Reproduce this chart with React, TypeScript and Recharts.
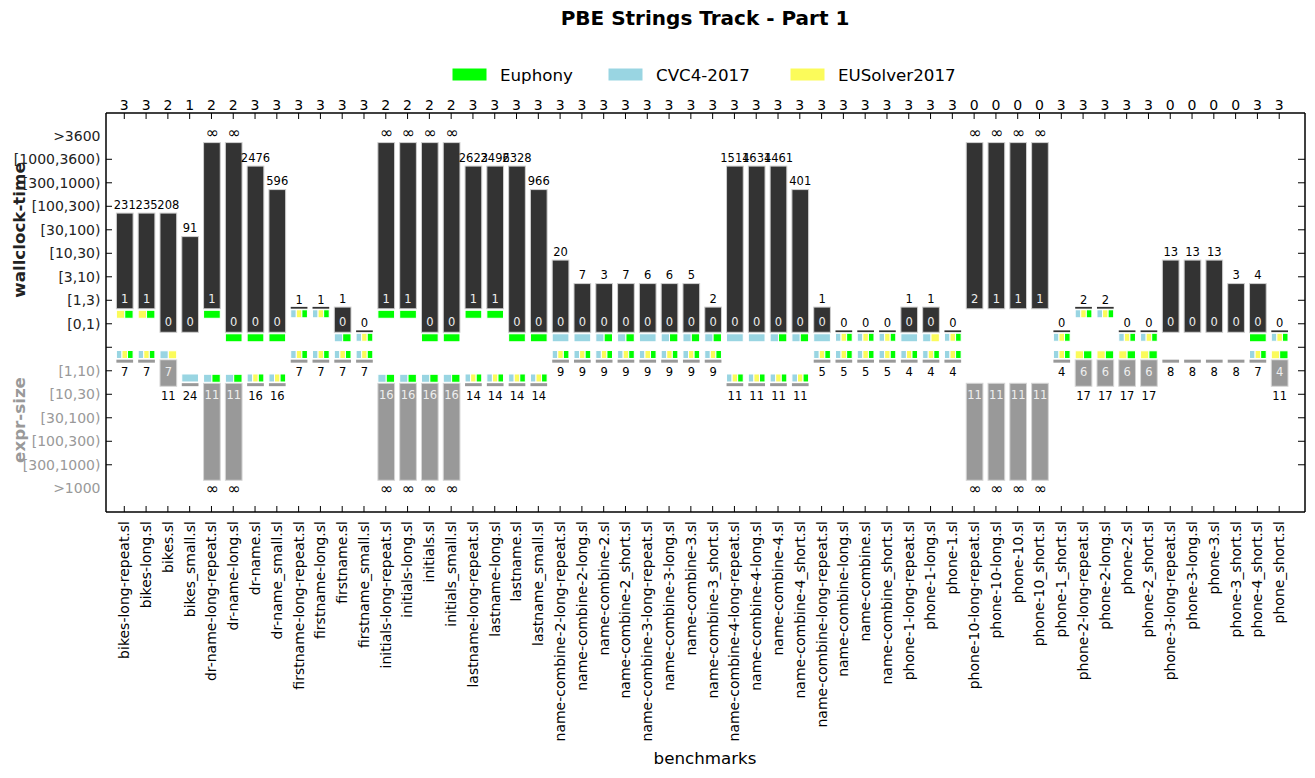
import { Bar, ComposedChart, XAxis, YAxis } from "recharts";

const INF = Infinity;
const FONT = "DejaVu Sans";

const benchmarks = [
  "bikes-long-repeat.sl", "bikes-long.sl", "bikes.sl", "bikes_small.sl",
  "dr-name-long-repeat.sl", "dr-name-long.sl", "dr-name.sl", "dr-name_small.sl",
  "firstname-long-repeat.sl", "firstname-long.sl", "firstname.sl", "firstname_small.sl",
  "initials-long-repeat.sl", "initials-long.sl", "initials.sl", "initials_small.sl",
  "lastname-long-repeat.sl", "lastname-long.sl", "lastname.sl", "lastname_small.sl",
  "name-combine-2-long-repeat.sl", "name-combine-2-long.sl", "name-combine-2.sl", "name-combine-2_short.sl",
  "name-combine-3-long-repeat.sl", "name-combine-3-long.sl", "name-combine-3.sl", "name-combine-3_short.sl",
  "name-combine-4-long-repeat.sl", "name-combine-4-long.sl", "name-combine-4.sl", "name-combine-4_short.sl",
  "name-combine-long-repeat.sl", "name-combine-long.sl", "name-combine.sl", "name-combine_short.sl",
  "phone-1-long-repeat.sl", "phone-1-long.sl", "phone-1.sl",
  "phone-10-long-repeat.sl", "phone-10-long.sl", "phone-10.sl", "phone-10_short.sl",
  "phone-1_short.sl",
  "phone-2-long-repeat.sl", "phone-2-long.sl", "phone-2.sl", "phone-2_short.sl",
  "phone-3-long-repeat.sl", "phone-3-long.sl", "phone-3.sl", "phone-3_short.sl",
  "phone-4_short.sl", "phone_short.sl",
];

// number of solvers that solved each benchmark (top axis)
const solvedCounts = [
  3, 3, 2, 1, 2, 2, 3, 3, 3, 3, 3, 3, 2, 2, 2, 2, 3, 3, 3, 3,
  3, 3, 3, 3, 3, 3, 3, 3, 3, 3, 3, 3, 3, 3, 3, 3, 3, 3, 3,
  0, 0, 0, 0, 3, 3, 3, 3, 3, 0, 0, 0, 0, 3, 3,
];

// wallclock time (s): slowest / fastest, and which solvers were fastest
const timeMax = [
  231, 235, 208, 91, INF, INF, 2476, 596, 1, 1, 1, 0, INF, INF, INF, INF, 2623, 2496, 2328, 966,
  20, 7, 3, 7, 6, 6, 5, 2, 1514, 1634, 1461, 401, 1, 0, 0, 0, 1, 1, 0,
  INF, INF, INF, INF, 0, 2, 2, 0, 0, 13, 13, 13, 3, 4, 0,
];
const timeMin = [
  1, 1, 0, 0, 1, 0, 0, 0, 1, 1, 0, 0, 1, 1, 0, 0, 1, 1, 0, 0,
  0, 0, 0, 0, 0, 0, 0, 0, 0, 0, 0, 0, 0, 0, 0, 0, 0, 0, 0,
  2, 1, 1, 1, 0, 2, 2, 0, 0, 0, 0, 0, 0, 0, 0,
];
const timeBest = [
  "yg", "yg", "", "", "g", "g", "g", "g", "cyg", "cyg", "cg", "cyg", "g", "g", "g", "g", "g", "g", "g", "g",
  "c", "c", "cg", "cg", "c", "cg", "cg", "cg", "c", "c", "cg", "cg", "c", "cyg", "cyg", "cyg", "c", "cy", "cyg",
  "", "", "", "", "cyg", "cyg", "cyg", "cyg", "cyg", "", "", "", "", "g", "cyg",
];

// expression size: smallest / largest, and which solvers were smallest
const sizeMin = [
  7, 7, 7, 24, 11, 11, 16, 16, 7, 7, 7, 7, 16, 16, 16, 16, 14, 14, 14, 14,
  9, 9, 9, 9, 9, 9, 9, 9, 11, 11, 11, 11, 5, 5, 5, 5, 4, 4, 4,
  11, 11, 11, 11, 4, 6, 6, 6, 6, 8, 8, 8, 8, 7, 4,
];
const sizeMax = [
  7, 7, 11, 24, INF, INF, 16, 16, 7, 7, 7, 7, INF, INF, INF, INF, 14, 14, 14, 14,
  9, 9, 9, 9, 9, 9, 9, 9, 11, 11, 11, 11, 5, 5, 5, 5, 4, 4, 4,
  INF, INF, INF, INF, 4, 17, 17, 17, 17, 8, 8, 8, 8, 7, 11,
];
const sizeBest = [
  "cyg", "cyg", "cy", "c", "cg", "cg", "cyg", "cyg", "cyg", "cyg", "cyg", "cyg", "cg", "cg", "cg", "cg", "cyg", "cyg", "cyg", "cyg",
  "cyg", "cyg", "cyg", "cyg", "cyg", "cyg", "cyg", "cyg", "cyg", "cyg", "cyg", "cyg", "cyg", "cyg", "cyg", "cyg", "cyg", "cyg", "cyg",
  "", "", "", "", "cyg", "yg", "yg", "yg", "yg", "", "", "", "", "cyg", "yg",
];

const timeTickLabels = [">3600", "[1000,3600)", "[300,1000)", "[100,300)", "[30,100)", "[10,30)", "[3,10)", "[1,3)", "[0,1)"];
const sizeTickLabels = ["[1,10)", "[10,30)", "[30,100)", "[100,300)", "[300,1000)", ">1000"];
const timeBounds = [1, 3, 10, 30, 100, 300, 1000, 3600];
const sizeBounds = [10, 30, 100, 300, 1000];

const solvers = [
  { key: "g", label: "Euphony", color: "#00ff00" },
  { key: "c", label: "CVC4-2017", color: "#99d5e2" },
  { key: "y", label: "EUSolver2017", color: "#fbfb5a" },
];
const solverColor: Record<string, string> = { g: "#00ff00", c: "#99d5e2", y: "#fbfb5a" };

const timeLevel = (v: number) => timeBounds.filter((b) => v >= b).length;
const sizeLevel = (v: number) => -2 - sizeBounds.filter((b) => v >= b).length;
const fmt = (v: number) => (v === INF ? "∞" : String(v));
// the infinity glyph is drawn a bit larger, as in the original
const labelSize = (v: number) => (v === INF ? 15.5 : 11.5);

const levelTicks = [8, 7, 6, 5, 4, 3, 2, 1, 0, -1, -2, -3, -4, -5, -6, -7];
const levelLabel = (l: number) =>
  l >= 0 ? timeTickLabels[8 - l] : l === -1 ? "" : sizeTickLabels[-2 - l];

const rows = benchmarks.map((name, i) => ({
  name,
  tMax: timeMax[i],
  tMin: timeMin[i],
  tBest: timeBest[i],
  sMin: sizeMin[i],
  sMax: sizeMax[i],
  sBest: sizeBest[i],
  timeSpan: [timeLevel(timeMin[i]), timeLevel(timeMax[i])],
  sizeSpan: [sizeLevel(sizeMax[i]), sizeLevel(sizeMin[i])],
}));

const Squares = ({ x, y, width, best }: { x: number; y: number; width: number; best: string }) => (
  <g>
    {best.split("").map((k, j, all) => (
      <rect
        key={k}
        x={x + (j * width) / all.length}
        y={y}
        width={width / all.length}
        height={8}
        fill={solverColor[k]}
        stroke="#fff"
        strokeWidth={1}
      />
    ))}
  </g>
);

const TimeShape = (props: any) => {
  const { x, y, width, height, payload } = props;
  const yTop = Math.min(y, y + height);
  const yBot = Math.max(y, y + height);
  const flat = Math.abs(height) < 0.5;
  const cx = x + width / 2;
  if (flat) {
    const line = yBot + 7.5;
    return (
      <g>
        <rect x={x} y={line - 0.9} width={width} height={1.8} fill="#333" />
        <text x={cx} y={line - 4} textAnchor="middle" fontSize={11.5} fontFamily={FONT} fill="#000">
          {fmt(payload.tMin)}
        </text>
        <Squares x={x} y={line + 2} width={width} best={payload.tBest} />
      </g>
    );
  }
  const top = yTop + 6.8;
  const bot = yBot + 8.5;
  return (
    <g>
      <rect x={x} y={top} width={width} height={bot - top} fill="#333" stroke="#cfcfcf" strokeWidth={1} />
      <text x={cx} y={top - 4.5} textAnchor="middle" fontSize={labelSize(payload.tMax)} fontFamily={FONT} fill="#000">
        {fmt(payload.tMax)}
      </text>
      <text x={cx} y={bot - 6} textAnchor="middle" fontSize={11.5} fontFamily={FONT} fill="#eee">
        {fmt(payload.tMin)}
      </text>
      <Squares x={x} y={bot + 1.5} width={width} best={payload.tBest} />
    </g>
  );
};

const SizeShape = (props: any) => {
  const { x, y, width, height, payload } = props;
  const yTop = Math.min(y, y + height);
  const yBot = Math.max(y, y + height);
  const flat = Math.abs(height) < 0.5;
  const cx = x + width / 2;
  if (flat) {
    const line = yTop - 9.6;
    return (
      <g>
        <rect x={x} y={line - 1.5} width={width} height={3} fill="#999" />
        <text x={cx} y={line + 15} textAnchor="middle" fontSize={11.5} fontFamily={FONT} fill="#000">
          {fmt(payload.sMin)}
        </text>
        <Squares x={x} y={line - 10.7} width={width} best={payload.sBest} />
      </g>
    );
  }
  const top = yTop - 11;
  const bot = yBot - 8;
  return (
    <g>
      <rect x={x} y={top} width={width} height={bot - top} fill="#999" stroke="#d6d6d6" strokeWidth={1} />
      <text x={cx} y={top + 16} textAnchor="middle" fontSize={11.5} fontFamily={FONT} fill="#eee">
        {fmt(payload.sMin)}
      </text>
      <text x={cx} y={bot + 14} textAnchor="middle" fontSize={labelSize(payload.sMax)} fontFamily={FONT} fill="#000">
        {fmt(payload.sMax)}
      </text>
      <Squares x={x} y={top - 9} width={width} best={payload.sBest} />
    </g>
  );
};

const NameTick = (props: any) => {
  const { x, y, payload } = props;
  return (
    <g>
      <line x1={x} x2={x} y1={y - 6} y2={y} stroke="#000" strokeWidth={1} />
      <text
        transform={`translate(${x},${y + 9}) rotate(-90)`}
        textAnchor="end"
        dy="0.35em"
        fontSize={14}
        fontFamily={FONT}
        fill="#000"
      >
        {payload.value}
      </text>
    </g>
  );
};

const CountTick = (props: any) => {
  const { x, y, payload, index } = props;
  const i = index ?? payload.index;
  return (
    <g>
      <line x1={x} x2={x} y1={y} y2={y + 6} stroke="#000" strokeWidth={1} />
      <text x={x} y={y - 3} textAnchor="middle" fontSize={14} fontFamily={FONT} fill="#000">
        {solvedCounts[i]}
      </text>
    </g>
  );
};

const LevelTick = (props: any) => {
  const { x, y, payload } = props;
  const l = payload.value;
  const edge = l === 8 || l === -7;
  return (
    <g>
      {!edge && <line x1={x} x2={x + 6} y1={y} y2={y} stroke="#000" strokeWidth={1} />}
      <text x={x - 5.5} y={y} dy="0.35em" textAnchor="end" fontSize={14} fontFamily={FONT} fill={l >= 0 ? "#222" : "#999"}>
        {levelLabel(l)}
      </text>
    </g>
  );
};

const RightTick = (props: any) => {
  const { x, y, payload } = props;
  const l = payload.value;
  if (l === 8 || l === -7) return <g />;
  return <line x1={x - 7} x2={x} y1={y} y2={y} stroke="#000" strokeWidth={1} />;
};

const axisStroke = { stroke: "#000", strokeWidth: 1.5 };

export default function App() {
  return (
    <div style={{ position: "absolute", left: 0, top: 0, width: 1315, height: 778, background: "#fff" }}>
      <ComposedChart width={1315} height={778} data={rows} margin={{ top: 0, right: 0, bottom: 0, left: 0 }}>
        <XAxis
          xAxisId="b"
          dataKey="name"
          orientation="bottom"
          height={266}
          interval={0}
          tickSize={0}
          tickMargin={0}
          tickLine={false}
          axisLine={axisStroke}
          tick={<NameTick />}
          padding={{ left: 7.4, right: 14.9 }}
        />
        <XAxis
          xAxisId="t"
          dataKey="name"
          orientation="top"
          height={113}
          interval={0}
          tickSize={0}
          tickMargin={0}
          tickLine={false}
          axisLine={axisStroke}
          tick={<CountTick />}
          padding={{ left: 7.4, right: 14.9 }}
        />
        <YAxis
          yAxisId="l"
          type="number"
          domain={[-8.01, 8.97]}
          allowDataOverflow
          ticks={levelTicks}
          interval={0}
          width={106}
          tickSize={0}
          tickMargin={0}
          tickLine={false}
          axisLine={axisStroke}
          tick={<LevelTick />}
        />
        <YAxis
          yAxisId="r"
          orientation="right"
          type="number"
          domain={[-8.01, 8.97]}
          allowDataOverflow
          ticks={levelTicks}
          interval={0}
          width={10}
          tickSize={0}
          tickMargin={0}
          tickLine={false}
          axisLine={axisStroke}
          tick={<RightTick />}
        />
        <Bar
          xAxisId="b"
          yAxisId="l"
          dataKey="timeSpan"
          barSize={16.7}
          shape={<TimeShape />}
          isAnimationActive={false}
        />
        <Bar
          xAxisId="t"
          yAxisId="l"
          dataKey="sizeSpan"
          barSize={16.7}
          shape={<SizeShape />}
          isAnimationActive={false}
        />
      </ComposedChart>
      <svg
        width={1315}
        height={778}
        style={{ position: "absolute", left: 0, top: 0, pointerEvents: "none" }}
        fontFamily={FONT}
      >
        <text x={705} y={25} textAnchor="middle" fontSize={20} fontWeight="bold" fill="#000">
          PBE Strings Track - Part 1
        </text>
        {solvers.map((s, i) => {
          const lx = [452, 608, 790][i];
          return (
            <g key={s.key}>
              <rect x={lx} y={68} width={35} height={13} fill={s.color} stroke="#fff" />
              <text x={lx + 48} y={81} fontSize={16.7} fill="#000">
                {s.label}
              </text>
            </g>
          );
        })}
        <text transform="translate(19,230) rotate(-90)" textAnchor="middle" dy="0.35em" fontSize={16.7} fontWeight="bold" fill="#222">
          wallclock-time
        </text>
        <text transform="translate(19,420) rotate(-90)" textAnchor="middle" dy="0.35em" fontSize={16.7} fontWeight="bold" fill="#999">
          expr-size
        </text>
        <text x={705} y={764} textAnchor="middle" fontSize={16.7} fill="#000">
          benchmarks
        </text>
      </svg>
    </div>
  );
}
